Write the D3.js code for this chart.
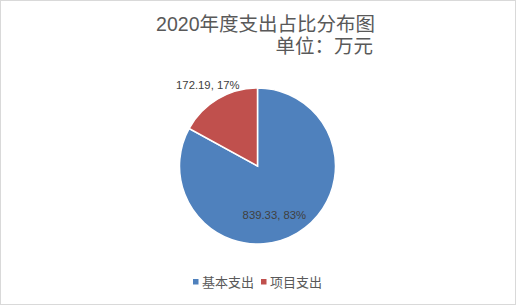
<!DOCTYPE html>
<html>
<head>
<meta charset="utf-8">
<script src="https://cdn.jsdelivr.net/npm/d3@7"></script>
<style>
  html, body { margin: 0; padding: 0; background: #fff; }
  svg { display: block; }
</style>
</head>
<body>
<svg id="chart" width="516" height="305"></svg>
<script>
// 2020 expenditure breakdown (unit: 10k yuan)
const categories = ["基本支出", "项目支出"];
const values = [839.33, 172.19];
const percents = ["83%", "17%"];
const colors = ["#4F81BD", "#C0504D"];
const titleLines = ["2020年度支出占比分布图", "单位：万元"];

const W = 516, H = 305;
const svg = d3.select("#chart");
const cjk = "'Noto Sans CJK SC', 'Microsoft YaHei', sans-serif";

// chart frame
svg.append("rect")
  .attr("x", 0.5).attr("y", 0.5)
  .attr("width", W - 1).attr("height", H - 1)
  .attr("fill", "#fff").attr("stroke", "#d9d9d9");

// two-line title, right-aligned
const title = svg.append("g")
  .attr("font-family", "'Liberation Sans', 'Noto Sans CJK SC', sans-serif")
  .attr("fill", "#595959")
  .attr("font-size", 19.5)
  .attr("text-anchor", "end");
title.append("text").attr("x", 375).attr("y", 30.5).text(titleLines[0]);
title.append("text").attr("x", 373).attr("y", 53).text(titleLines[1]);

// pie
const cx = 257.5, cy = 166, r = 78;
const pie = d3.pie().sort(null).value(d => d)(values);
const arc = d3.arc().innerRadius(0).outerRadius(r);
const g = svg.append("g").attr("transform", `translate(${cx},${cy})`);
g.selectAll("path")
  .data(pie)
  .join("path")
  .attr("d", arc)
  .attr("fill", (d, i) => colors[i])
  .attr("stroke", "#fff")
  .attr("stroke-width", 1.5);

// data labels: inside for the large slice, outside for the small one
const labelArc = [
  d3.arc().innerRadius(r * 0.7).outerRadius(r * 0.7),
  d3.arc().innerRadius(r * 1.2).outerRadius(r * 1.2)
];
const labelShift = [[-11, 2], [-2, 0]];
g.selectAll("text.lbl")
  .data(pie)
  .join("text")
  .attr("class", "lbl")
  .attr("transform", (d, i) => {
    const [x, y] = labelArc[i].centroid(d);
    return `translate(${x + labelShift[i][0]},${y + labelShift[i][1]})`;
  })
  .attr("text-anchor", "middle")
  .attr("dominant-baseline", "central")
  .attr("font-family", "'Liberation Sans', Arial, sans-serif")
  .attr("font-size", 11.3)
  .attr("fill", "#404040")
  .text((d, i) => `${values[i].toFixed(2)}, ${percents[i]}`);

// legend
const legend = svg.append("g").attr("font-family", cjk).attr("font-size", 13).attr("fill", "#595959");
const legendX = [193, 261];
categories.forEach((c, i) => {
  legend.append("rect").attr("x", legendX[i]).attr("y", 279).attr("width", 5.5).attr("height", 5.5).attr("fill", colors[i]);
  legend.append("text").attr("x", legendX[i] + 9).attr("y", 287).text(c);
});
</script>
</body>
</html>
